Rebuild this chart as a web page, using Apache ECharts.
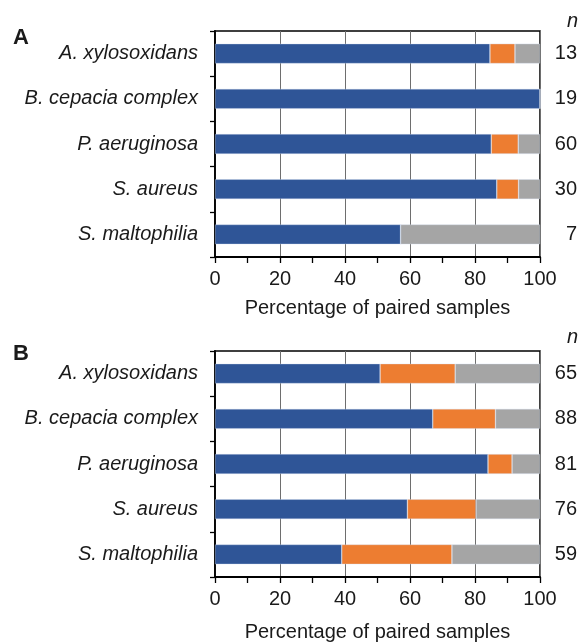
<!DOCTYPE html>
<html>
<head>
<meta charset="utf-8">
<script src="https://cdn.jsdelivr.net/npm/echarts@6/dist/echarts.min.js"></script>
<style>
html,body{margin:0;padding:0;background:#fff;}
#chart{width:582px;height:643px;}
</style>
</head>
<body>
<div id="chart"></div>
<script>
const categories = ['A. xylosoxidans', 'B. cepacia complex', 'P. aeruginosa', 'S. aureus', 'S. maltophilia'];
const xTicks = [0, 20, 40, 60, 80, 100];

// Panel A
const nA = ['13', '19', '60', '30', '7'];
const blueA = [84.6, 100, 85.0, 86.7, 57.1];
const orangeA = [7.7, 0, 8.3, 6.7, 0];
const greyA = [7.7, 0, 6.7, 6.6, 42.9];

// Panel B
const nB = ['65', '88', '81', '76', '59'];
const blueB = [50.8, 67.0, 84.0, 59.2, 39.0];
const orangeB = [23.1, 19.3, 7.4, 21.1, 33.9];
const greyB = [26.1, 13.7, 8.6, 19.7, 27.1];

const FONT = 'Liberation Sans, Arial, sans-serif';
const COLORS = ['#2F5597', '#ED7D31', '#A5A5A5'];
const TXT = '#1a1a1a';
const FS = 20;

const grids = [
  {left: 215, right: 42, top: 31, height: 226, show: true, borderColor: '#000', borderWidth: 1.5, containLabel: false},
  {left: 215, right: 42, top: 351, height: 227, show: true, borderColor: '#000', borderWidth: 1.5, containLabel: false}
];

function xAxisFor(i, gap) {
  return {
    type: 'value', gridIndex: i, min: xTicks[0], max: xTicks[xTicks.length - 1], interval: xTicks[1] - xTicks[0],
    axisLine: {show: true, lineStyle: {color: '#000', width: 1.8}},
    axisTick: {show: true, length: 6, lineStyle: {color: '#000', width: 1.3}},
    minorTick: {show: true, splitNumber: 2, length: 6, lineStyle: {color: '#000', width: 1.3}},
    splitLine: {show: true, lineStyle: {color: '#6e6e6e', width: 1}},
    axisLabel: {fontSize: FS, color: TXT, fontFamily: FONT, margin: 12},
    name: 'Percentage of paired samples', nameLocation: 'middle', nameGap: gap,
    nameTextStyle: {fontSize: FS, color: TXT, fontFamily: FONT}
  };
}

function yAxisFor(i) {
  return {
    type: 'category', gridIndex: i, data: categories, inverse: true,
    axisLine: {show: true, lineStyle: {color: '#000', width: 1.8}},
    axisTick: {show: true, length: 5, lineStyle: {color: '#000', width: 1.3}},
    axisLabel: {fontSize: FS, color: TXT, fontFamily: FONT, fontStyle: 'italic', margin: 17}
  };
}

function nAxisFor(i, data) {
  return {
    type: 'category', gridIndex: i, data: data, inverse: true, position: 'right',
    axisLine: {show: false}, axisTick: {show: false}, splitLine: {show: false},
    axisLabel: {fontSize: FS, color: TXT, fontFamily: FONT, margin: 37, align: 'right'}
  };
}

function bar(name, data, xi, yi, color) {
  return {
    name: name, type: 'bar', stack: 's' + xi, xAxisIndex: xi, yAxisIndex: yi,
    data: data, barWidth: '44%', itemStyle: {color: color, borderColor: 'rgba(210,222,240,0.6)', borderWidth: 0.6},
    silent: true, animation: false
  };
}

const option = {
  animation: false,
  backgroundColor: '#fff',
  title: [
    {text: 'A', left: 8, top: 22, textStyle: {fontSize: 22, fontWeight: 'bold', color: TXT, fontFamily: FONT}},
    {text: 'B', left: 8, top: 338, textStyle: {fontSize: 22, fontWeight: 'bold', color: TXT, fontFamily: FONT}},
    {text: 'n', left: 562, top: 6, textStyle: {fontSize: FS, fontWeight: 'normal', fontStyle: 'italic', color: TXT, fontFamily: FONT}},
    {text: 'n', left: 562, top: 322, textStyle: {fontSize: FS, fontWeight: 'normal', fontStyle: 'italic', color: TXT, fontFamily: FONT}}
  ],
  grid: grids,
  xAxis: [xAxisFor(0, 41), xAxisFor(1, 45)],
  yAxis: [yAxisFor(0), yAxisFor(1), nAxisFor(0, nA), nAxisFor(1, nB)],
  series: [
    bar('Blue', blueA, 0, 0, COLORS[0]),
    bar('Orange', orangeA, 0, 0, COLORS[1]),
    bar('Grey', greyA, 0, 0, COLORS[2]),
    bar('Blue', blueB, 1, 1, COLORS[0]),
    bar('Orange', orangeB, 1, 1, COLORS[1]),
    bar('Grey', greyB, 1, 1, COLORS[2])
  ]
};

const chart = echarts.init(document.getElementById('chart'), null, {renderer: 'canvas'});
chart.setOption(option);
</script>
</body>
</html>
